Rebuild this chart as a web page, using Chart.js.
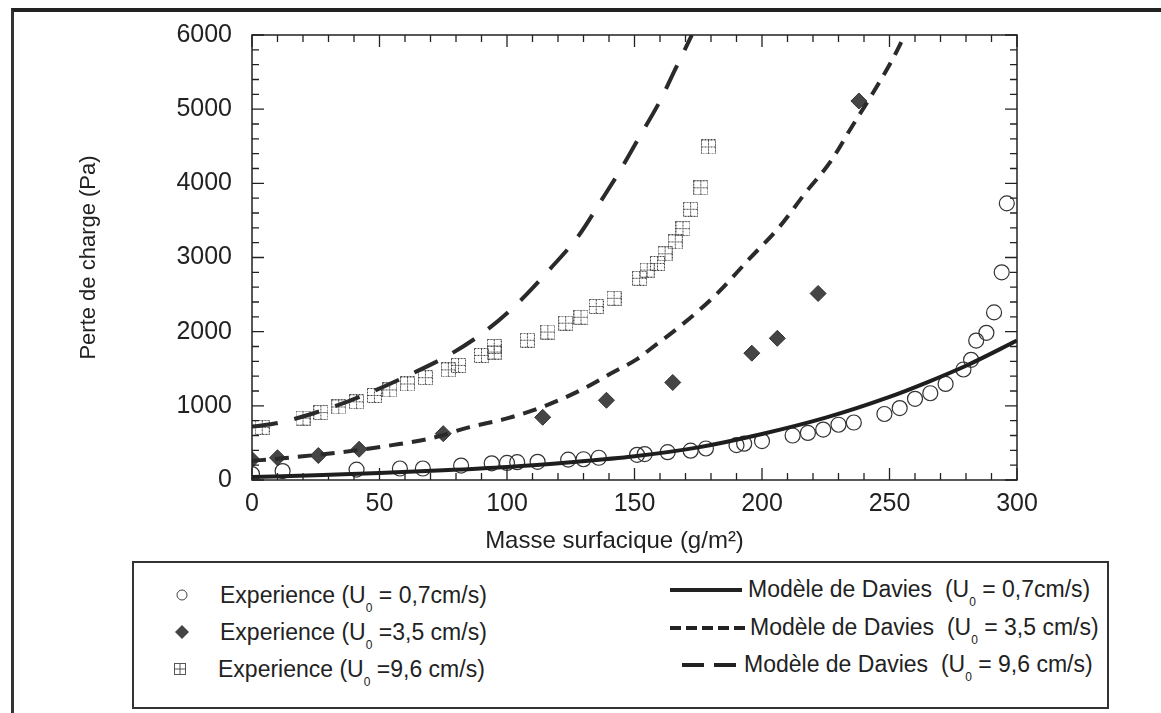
<!DOCTYPE html>
<html>
<head>
<meta charset="utf-8">
<script src="https://cdn.jsdelivr.net/npm/chart.js@4.4.1/dist/chart.umd.min.js"></script>
<style>
  html, body { margin: 0; padding: 0; background: #fff; }
  body { width: 1161px; height: 713px; position: relative; overflow: hidden;
         font-family: "Liberation Sans", Arial, sans-serif; color: #222; }
  #frame { position: absolute; left: 11px; top: 8px; width: 1160px; height: 720px;
           border-top: 4px solid #222; border-left: 3px solid #333; }
  #wrap { position: absolute; left: 0; top: 0; width: 1161px; height: 560px; }
  #legend { position: absolute; left: 132px; top: 561px; width: 973px; height: 144px;
            border: 2px solid #333; box-sizing: content-box; }
  .lt { position: absolute; font-size: 23px; white-space: nowrap; line-height: 24px; }
  .lt sub { font-size: 12px; vertical-align: -9px; line-height: 0; }
  .ic { position: absolute; }
</style>
</head>
<body>
<div id="frame"></div>
<div id="wrap"><canvas id="myChart"></canvas></div>

<div id="legend">
  <svg class="ic" style="left:40px;top:24px" width="16" height="16"><circle cx="8" cy="8" r="5" fill="none" stroke="#444" stroke-width="1"/></svg>
  <div class="lt" style="left:86px;top:20px">Experience (U<sub>0</sub> = 0,7cm/s)</div>

  <svg class="ic" style="left:40px;top:61px" width="16" height="16"><polygon points="8,1 15,8 8,15 1,8" fill="#444"/></svg>
  <div class="lt" style="left:86px;top:57px">Experience (U<sub>0</sub> =3,5 cm/s)</div>

  <svg class="ic" style="left:38px;top:98px" width="16" height="16"><rect x="2.5" y="2.5" width="11" height="11" fill="none" stroke="#555" stroke-width="1"/><line x1="8" y1="2.5" x2="8" y2="13.5" stroke="#555"/><line x1="2.5" y1="8" x2="13.5" y2="8" stroke="#555"/></svg>
  <div class="lt" style="left:84px;top:94px">Experience (U<sub>0</sub> =9,6 cm/s)</div>

  <svg class="ic" style="left:534px;top:22px" width="76" height="10"><line x1="2" y1="5" x2="74" y2="5" stroke="#222" stroke-width="4"/></svg>
  <div class="lt" style="left:614px;top:14px">Modèle de Davies &nbsp;(U<sub>0</sub> = 0,7cm/s)</div>

  <svg class="ic" style="left:534px;top:60px" width="80" height="10"><line x1="2" y1="5" x2="78" y2="5" stroke="#222" stroke-width="4" stroke-dasharray="11,5"/></svg>
  <div class="lt" style="left:616px;top:52px">Modèle de Davies &nbsp;(U<sub>0</sub> = 3,5 cm/s)</div>

  <svg class="ic" style="left:546px;top:97px" width="60" height="10"><line x1="2" y1="5" x2="58" y2="5" stroke="#222" stroke-width="4" stroke-dasharray="22,10"/></svg>
  <div class="lt" style="left:610px;top:89px">Modèle de Davies &nbsp;(U<sub>0</sub> = 9,6 cm/s)</div>
</div>

<script>
// axes
var xMajorTicks = [0, 50, 100, 150, 200, 250, 300];
var yMajorTicks = [0, 1000, 2000, 3000, 4000, 5000, 6000];

// Experience U0 = 0,7 cm/s (circles)
var exp07X = [0, 12, 41, 58, 67, 82, 94, 100, 104, 112, 124, 130, 136, 151, 154, 163, 172, 178, 190, 193, 200, 212, 218, 224, 230, 236, 248, 254, 260, 266, 272, 279, 282, 284, 288, 291, 294, 296];
var exp07Y = [80, 120, 140, 155, 155, 195, 225, 230, 240, 245, 275, 280, 300, 340, 350, 375, 395, 425, 470, 490, 525, 600, 635, 680, 745, 775, 890, 970, 1095, 1170, 1295, 1490, 1620, 1880, 1985, 2260, 2800, 3730];

// Experience U0 = 3,5 cm/s (diamonds)
var exp35X = [0, 10, 26, 42, 75, 114, 139, 165, 196, 206, 222, 238];
var exp35Y = [275, 300, 330, 415, 625, 845, 1075, 1315, 1710, 1910, 2515, 5110];

// Experience U0 = 9,6 cm/s (squares)
var exp96X = [4, 20, 27, 34, 41, 48, 54, 61, 68, 77, 81, 90, 95, 95, 108, 116, 123, 129, 135, 142, 152, 155, 159, 162, 166, 169, 172, 176, 179];
var exp96Y = [710, 835, 910, 985, 1055, 1140, 1215, 1295, 1380, 1485, 1545, 1680, 1725, 1800, 1885, 1995, 2115, 2195, 2340, 2450, 2720, 2830, 2920, 3050, 3210, 3390, 3650, 3940, 4490];

// Modele de Davies
var dav07X = [0, 25, 50, 75, 100, 125, 150, 175, 200, 225, 250, 265, 280, 300];
var dav07Y = [40, 65, 95, 130, 175, 240, 320, 440, 620, 840, 1120, 1320, 1540, 1880];

var dav35X = [0, 10, 20, 35, 55, 70, 85, 100, 115, 130, 142, 151, 156, 169, 182, 195, 207, 217, 227, 235, 243, 251, 256];
var dav35Y = [260, 285, 320, 375, 470, 560, 710, 830, 1000, 1230, 1460, 1630, 1760, 2105, 2500, 2980, 3420, 3870, 4300, 4750, 5190, 5660, 6000];

var dav96X = [0, 11, 38, 64, 78, 92, 105, 117, 128, 137, 145, 152, 160, 166, 172.5];
var dav96Y = [720, 775, 1065, 1455, 1700, 2020, 2410, 2850, 3290, 3770, 4210, 4630, 5110, 5540, 6000];

function pts(xs, ys) {
    return xs.map(function (x, i) { return {x: x, y: ys[i]}; });
}

// square with a cross, used as point style
function boxCross(size) {
    var c = document.createElement('canvas');
    c.width = size; c.height = size;
    var g = c.getContext('2d');
    g.strokeStyle = '#444';
    g.lineWidth = 1;
    g.setLineDash([2, 1]);
    g.strokeRect(0.5, 0.5, size - 1, size - 1);
    g.beginPath();
    g.moveTo(size / 2, 0.5); g.lineTo(size / 2, size - 0.5);
    g.moveTo(0.5, size / 2); g.lineTo(size - 0.5, size / 2);
    g.stroke();
    return c;
}

// frame + inward ticks on all four sides
var frameTicks = {
    id: 'frameTicks',
    afterDraw: function (chart) {
        var ctx = chart.ctx, a = chart.chartArea;
        var x = chart.scales.x, y = chart.scales.y;
        ctx.save();
        ctx.strokeStyle = '#222';
        ctx.lineWidth = 1.5;
        ctx.strokeRect(a.left, a.top, a.right - a.left, a.bottom - a.top);
        ctx.lineWidth = 1.3;
        ctx.beginPath();
        for (var v = 0; v <= 300; v += 10) {
            var px = x.getPixelForValue(v);
            var len = (v % 50 === 0) ? 12 : 7;
            ctx.moveTo(px, a.bottom); ctx.lineTo(px, a.bottom - len);
            ctx.moveTo(px, a.top); ctx.lineTo(px, a.top + len);
        }
        for (var w = 0; w <= 6000; w += 200) {
            var py = y.getPixelForValue(w);
            var l2 = (w % 1000 === 0) ? 12 : 7;
            ctx.moveTo(a.left, py); ctx.lineTo(a.left + l2, py);
            ctx.moveTo(a.right, py); ctx.lineTo(a.right - l2, py);
        }
        ctx.stroke();
        ctx.restore();
    }
};

const ctx = document.getElementById('myChart');

new Chart(ctx, {
    type: 'scatter',
    data: {
        datasets: [{
            label: 'Modèle de Davies (U0 = 0,7cm/s)',
            data: pts(dav07X, dav07Y),
            showLine: true,
            borderColor: '#1e1e1e',
            borderWidth: 4,
            pointRadius: 0,
            cubicInterpolationMode: 'monotone'
        }, {
            label: 'Modèle de Davies (U0 = 3,5 cm/s)',
            data: pts(dav35X, dav35Y),
            showLine: true,
            borderColor: '#2a2a2a',
            borderWidth: 4,
            borderDash: [14, 9],
            pointRadius: 0,
            cubicInterpolationMode: 'monotone'
        }, {
            label: 'Modèle de Davies (U0 = 9,6 cm/s)',
            data: pts(dav96X, dav96Y),
            showLine: true,
            borderColor: '#2a2a2a',
            borderWidth: 4,
            borderDash: [26, 17],
            pointRadius: 0,
            cubicInterpolationMode: 'monotone'
        }, {
            label: 'Experience (U0 = 0,7cm/s)',
            data: pts(exp07X, exp07Y),
            pointStyle: 'circle',
            pointRadius: 7.5,
            borderWidth: 1.2,
            borderColor: '#333',
            backgroundColor: 'rgba(255,255,255,0)'
        }, {
            label: 'Experience (U0 =3,5 cm/s)',
            data: pts(exp35X, exp35Y),
            pointStyle: 'rectRot',
            pointRadius: 8,
            borderWidth: 1,
            borderColor: '#333',
            backgroundColor: '#454545'
        }, {
            label: 'Experience (U0 =9,6 cm/s)',
            data: pts(exp96X, exp96Y),
            pointStyle: boxCross(15),
            pointRadius: 7
        }]
    },
    options: {
        maintainAspectRatio: false,
        responsive: true,
        animation: false,
        layout: { padding: { top: 24, right: 144, left: 0, bottom: 0 } },
        plugins: { legend: { display: false }, tooltip: { enabled: false } },
        scales: {
            x: {
                type: 'linear',
                min: 0,
                max: 300,
                afterFit: function (s) { s.height = 80; },
                afterBuildTicks: function (s) { s.ticks = xMajorTicks.map(function (v) { return {value: v}; }); },
                grid: { display: false, drawTicks: false },
                border: { display: false },
                ticks: {
                    padding: 9,
                    color: '#222',
                    font: { family: 'Liberation Sans', size: 25 },
                    callback: function (v) { return String(v); }
                },
                title: {
                    display: true,
                    text: 'Masse surfacique (g/m²)\u00a0\u00a0\u00a0\u00a0\u00a0\u00a0',
                    color: '#222',
                    font: { family: 'Liberation Sans', size: 24 },
                    padding: { top: 4, bottom: 4 }
                }
            },
            y: {
                min: 0,
                max: 6000,
                afterFit: function (s) { s.width = 252; },
                afterBuildTicks: function (s) { s.ticks = yMajorTicks.map(function (v) { return {value: v}; }); },
                grid: { display: false, drawTicks: false },
                border: { display: false },
                ticks: {
                    padding: 20,
                    color: '#222',
                    font: { family: 'Liberation Sans', size: 25 },
                    callback: function (v) { return String(v); }
                },
                title: {
                    display: true,
                    text: 'Perte de charge (Pa)',
                    color: '#222',
                    font: { family: 'Liberation Sans', size: 22 },
                    padding: { top: 76, bottom: 0 }
                }
            }
        }
    },
    plugins: [frameTicks]
});
</script>
</body>
</html>
